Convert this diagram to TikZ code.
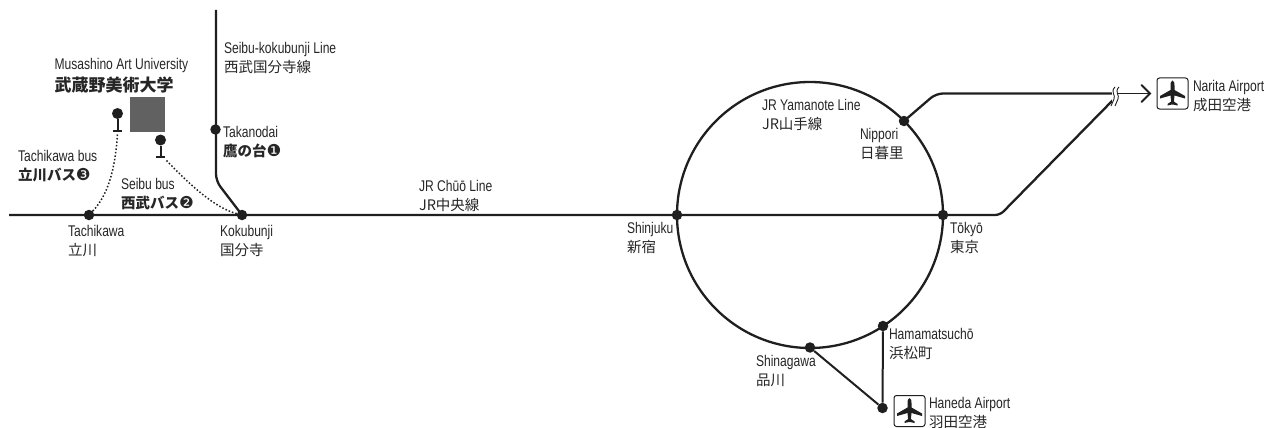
\documentclass[tikz,border=0pt]{standalone}
\usepackage{fontspec}
\setmainfont[FakeStretch=0.78]{Liberation Sans}
\newfontfamily\cjkfont{Noto Sans CJK JP}
\newfontfamily\dvfont{DejaVu Sans}
\newcommand{\latsize}{\fontsize{15.5}{19}\selectfont}
\newcommand{\jplain}[1]{{\cjkfont\fontsize{14.5}{19}\selectfont #1}}
\newcommand{\jbold}[1]{{\cjkfont\bfseries\fontsize{14.5}{19}\selectfont #1}}
\newcommand{\jbig}[1]{{\cjkfont\bfseries\fontsize{17}{19}\selectfont #1}}
\newcommand{\numsign}[1]{{\dvfont\fontsize{16.5}{19}\selectfont #1}}
\colorlet{ink}{black!88}
\tikzset{
  lab/.style={anchor=north west,inner sep=0pt,outer sep=0pt,align=left,font=\latsize,text=black!85},
  rail/.style={draw=ink,line width=2.3pt},
  thinrail/.style={draw=ink,line width=2pt},
  stn/.style={circle,fill=ink,minimum size=10.5pt,inner sep=0pt},
  stophead/.style={circle,fill=ink,minimum size=11pt,inner sep=0pt},
  stem/.style={draw=ink,line width=2pt},
  busway/.style={draw=ink,line width=1.5pt,dash pattern=on 1.5pt off 2pt},
  planebox/.style={draw=ink,line width=1pt,rounded corners=2.5pt,minimum width=31pt,minimum height=31pt,inner sep=0pt},
  plane/.pic={
    \fill[ink] (0,-13) .. controls (1.8,-13) and (2,-10) .. (2,-8) -- (2,-3.5) -- (12.5,2.5) -- (12.5,5) -- (2,2) -- (1.4,8) -- (5,10.5) -- (5,12) -- (0.6,11) -- (-0.6,11) -- (-5,12) -- (-5,10.5) -- (-1.4,8) -- (-2,2) -- (-12.5,5) -- (-12.5,2.5) -- (-2,-3.5) -- (-2,-8) .. controls (-2,-10) and (-1.8,-13) .. (0,-13) -- cycle;
  }
}
\begin{document}
\begin{tikzpicture}[x=1pt,y=-1pt]
\useasboundingbox (0,0) rectangle (1269,428);
% coordinates
\coordinate (wl) at (9,215);
\coordinate (bendE) at (1000,215);
\coordinate (brkS) at (1113,100);
\coordinate (top) at (216,10);
\coordinate (bendS) at (216,181);
\coordinate (bendN) at (936,93.5);
\coordinate (brkN) at (1113,93.5);
\coordinate (tip) at (1150,93.5);
% stations
\node[stn] (tachikawa) at (89,215) {};
\node[stn] (kokubunji) at (242,215) {};
\node[stn] (takanodai) at (215.5,129.5) {};
\node[stn] (shinjuku) at (677,215) {};
\node[stn] (tokyo) at (943,215) {};
\node[stn] (nippori) at (904,121) {};
\node[stn] (hamamatsucho) at (883,326) {};
\node[stn] (shinagawa) at (810,347.5) {};
\node[stn] (haneda) at (882.5,408) {};
% circle line
\draw[rail] (810,215) circle[radius=133];
% main lines
\draw[rail,rounded corners=5pt] (wl) -- (tachikawa.center) -- (kokubunji.center) -- (shinjuku.center) -- (tokyo.center) -- (bendE) -- (brkS);
\draw[rail,rounded corners=7pt] (top) -- (bendS) -- (kokubunji.center);
\draw[rail,rounded corners=7pt] (nippori.center) -- (bendN) -- (brkN);
\draw[draw=ink,line width=1.5pt] (brkN) -- (tip);
\draw[thinrail,line cap=round,line join=miter] (1141.5,85) -- (tip) -- (1141.5,102);
\draw[thinrail] (hamamatsucho) -- (haneda);
\draw[thinrail] (shinagawa) -- (haneda);
% break mark
\fill[white] (1112,88) -- (1117,88) -- (1117,107) -- (1112,107) -- cycle;
\draw[ink,line width=.9pt] (1115,87) .. controls (1110,92) and (1116,95) .. (1114,99) .. controls (1113,102) and (1112,103) .. (1111,106);
\draw[ink,line width=.9pt] (1119,87) .. controls (1114,92) and (1120,95) .. (1118,99) .. controls (1117,102) and (1116,103) .. (1115,106);
% campus
\node[fill=black!62,minimum size=35pt,inner sep=0pt] (campus) at (147.5,114.5) {};
% bus stops
\node[stophead] (stopT) at (117.5,113.5) {};
\coordinate (barT) at (117.5,130.5);
\draw[stem] (stopT) -- (barT);
\draw[stem] (113,130.5) -- (122,130.5);
\node[stophead] (stopS) at (160.5,140) {};
\coordinate (barS) at (160.5,156.5);
\draw[stem] (stopS) -- (barS);
\draw[stem] (156,156.5) -- (165,156.5);
\draw[busway] (barT) ++(0,4) .. controls (115,170) and (108,195) .. (tachikawa);
\draw[busway] (barS) ++(6,4) .. controls (190,185) and (215,208) .. (kokubunji);
% airport icons
\node[planebox] (naritabox) at (1172.5,93.5) {};
\pic at (naritabox.center) {plane};
\node[planebox] (hanedabox) at (909.5,411) {};
\pic at (hanedabox.center) {plane};
% labels
\node[lab] (lMau) at (54.5,58) {Musashino Art University\\[3pt]\jbig{武蔵野美術大学}};
\node[lab] (lSk) at (224,42.5) {Seibu-kokubunji Line\\\jplain{西武国分寺線}};
\node[lab] (lTa) at (223,126) {Takanodai\\\jbold{鷹の台}\numsign{❶}};
\node[lab] (lTb) at (18,150) {Tachikawa bus\\\jbold{立川バス}\numsign{❸}};
\node[lab] (lSb) at (121,178) {Seibu bus\\\jbold{西武バス}\numsign{❷}};
\node[lab] (lTc) at (68,225) {Tachikawa\\\jplain{立川}};
\node[lab] (lKo) at (220,225) {Kokubunji\\\jplain{国分寺}};
\node[lab] (lCh) at (419,180) {JR Chūō Line\\\jplain{JR中央線}};
\node[lab] (lYa) at (762,99) {JR Yamanote Line\\\jplain{JR山手線}};
\node[lab] (lNi) at (860,128) {Nippori\\\jplain{日暮里}};
\node[lab] (lSj) at (627,222) {Shinjuku\\\jplain{新宿}};
\node[lab] (lTk) at (950,222) {Tōkyō\\\jplain{東京}};
\node[lab] (lHm) at (889,328) {Hamamatsuchō\\\jplain{浜松町}};
\node[lab] (lSg) at (756,355) {Shinagawa\\\jplain{品川}};
\node[lab] (lHn) at (929,397.5) {Haneda Airport\\\jplain{羽田空港}};
\node[lab] (lNa) at (1193,80) {Narita Airport\\\jplain{成田空港}};
\end{tikzpicture}
\end{document}
